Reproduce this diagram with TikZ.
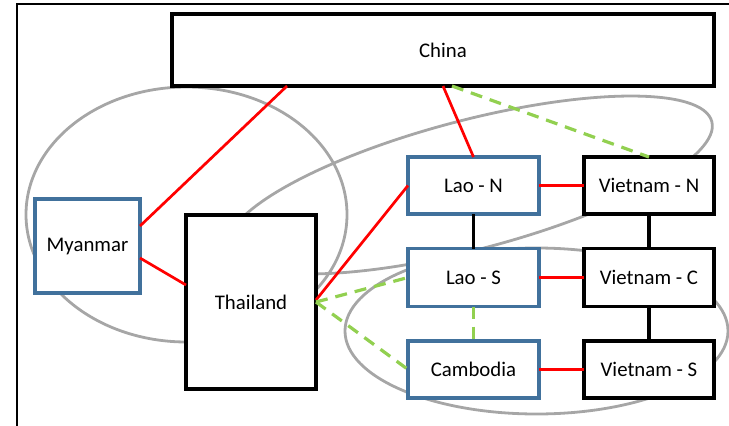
\documentclass[tikz,border=0pt]{standalone}
\usepackage{fontspec}
\setmainfont{Carlito}
\definecolor{boxblue}{HTML}{41719C}
\definecolor{ringgrey}{HTML}{A6A6A6}
\definecolor{linkred}{HTML}{FF0000}
\definecolor{linkgreen}{HTML}{92D050}
\begin{document}
\begin{tikzpicture}[x=1pt,y=-1pt,
  region/.style={draw=black, line width=3.3pt, fill=white, inner sep=0pt,
    outer sep=0pt, font=\fontsize{20.8}{24}\selectfont},
  laobox/.style={region, draw=boxblue, line width=3.3pt},
  ring/.style={draw=ringgrey, line width=2.8pt},
  redlink/.style={draw=linkred, line width=2.7pt},
  blacklink/.style={draw=black, line width=3.2pt},
  greenlink/.style={draw=linkgreen, line width=3.2pt, dash pattern=on 12pt off 8pt}]

\useasboundingbox (0,0) rectangle (729,426);

% outer frame
\draw[line width=1.6pt] (17,426) -- (17,4) -- (729,4);

% grouping rings
\draw[ring] (186.5,214.5) ellipse [x radius=160.5pt, y radius=127.5pt];
\draw[ring] (470,185) circle [x radius=250pt, y radius=64.5pt, rotate=14.7];
\draw[ring] (536.5,331) ellipse [x radius=191.5pt, y radius=83pt];

% regions
\node[region, minimum width=542pt, minimum height=72pt] (china) at (443,50) {China};
\node[laobox, minimum width=105pt, minimum height=94pt] (myanmar) at (87.5,246) {Myanmar};
\node[region, minimum width=130pt, minimum height=174pt] (thailand) at (251,302) {Thailand};
\node[laobox, minimum width=131pt, minimum height=57pt] (laon) at (473.5,185.5) {Lao - N};
\node[region, minimum width=130pt, minimum height=57pt] (vietn) at (649,185.5) {Vietnam - N};
\node[laobox, minimum width=131pt, minimum height=58pt] (laos) at (473.5,277.5) {Lao - S};
\node[region, minimum width=130pt, minimum height=58pt] (vietc) at (649,277.5) {Vietnam - C};
\node[laobox, minimum width=131pt, minimum height=57pt] (cambodia) at (473.5,369.5) {Cambodia};
\node[region, minimum width=130pt, minimum height=57pt] (viets) at (649,369.5) {Vietnam - S};

% links
\draw[redlink] ([xshift=-156pt]china.south) -- ([yshift=20pt]myanmar.east);
\draw[redlink] ([yshift=-12pt]myanmar.east) -- ([yshift=17pt]thailand.west);
\draw[redlink] (china.south) -- (laon.north);
\draw[redlink] ([yshift=2pt]thailand.east) -- (laon.west);
\draw[redlink] (laon.east) -- (vietn.west);
\draw[redlink] (laos.east) -- (vietc.west);
\draw[redlink] (cambodia.east) -- (viets.west);

\draw[blacklink] (laon.south) -- (laos.north);
\draw[blacklink] (vietn.south) -- (vietc.north);
\draw[blacklink] (vietc.south) -- (viets.north);

\draw[greenlink] ([xshift=9pt]china.south) -- (vietn.north);
\draw[greenlink] (thailand.east) -- (laos.west);
\draw[greenlink] (thailand.east) -- (cambodia.west);
\draw[greenlink] (laos.south) -- (cambodia.north);
\end{tikzpicture}
\end{document}
